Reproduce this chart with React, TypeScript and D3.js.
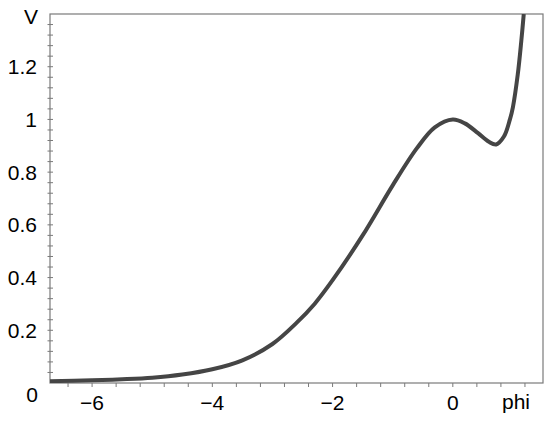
import React from "react";
import * as d3 from "d3";

const phi = [-6.7, -6.0, -5.5, -5.0, -4.5, -4.0, -3.5, -3.0, -2.6, -2.3, -2.0, -1.5, -1.0, -0.6, -0.3, 0, 0.2, 0.42, 0.6, 0.72, 0.85, 0.95, 1.0, 1.08, 1.14, 1.18];
const V = [0.007, 0.010, 0.014, 0.020, 0.032, 0.052, 0.086, 0.148, 0.228, 0.30, 0.39, 0.56, 0.75, 0.89, 0.97, 1.0, 0.985, 0.948, 0.915, 0.905, 0.935, 1.0, 1.047, 1.17, 1.30, 1.40];
const xTicks = [-6, -4, -2, 0];
const yTicks = [0.2, 0.4, 0.6, 0.8, 1, 1.2];

const W = 550, H = 421;
const L = 50, R = 543, T = 14, B = 383;

export default function App() {
  const x = d3.scaleLinear().domain([-6.7, 1.5]).range([L, R]);
  const y = d3.scaleLinear().domain([0, 1.4]).range([B, T]);
  const pts = phi.map((p, i) => [p, V[i]] as [number, number]);
  const line = d3.line<[number, number]>().x(d => x(d[0])).y(d => y(d[1])).curve(d3.curveCatmullRom.alpha(0.5));
  const xMinor = d3.range(-6.4, 1.5, 0.4).map(v => Math.round(v * 10) / 10);
  const yMinor = d3.range(0.04, 1.4, 0.04).map(v => Math.round(v * 100) / 100);
  const gray = "#7a7a7a";
  const font = "'Liberation Sans', Arial, sans-serif";
  return (
    <svg width={W} height={H} style={{ position: "absolute", left: 0, top: 0, background: "#fff" }}>
      <defs>
        <clipPath id="pc"><rect x={L} y={T} width={R - L} height={B - T} /></clipPath>
      </defs>
      <rect x={L} y={T} width={R - L} height={B - T} fill="none" stroke={gray} strokeWidth={1.2} />
      {xMinor.map((v, i) => (
        <line key={"xm" + i} x1={x(v)} x2={x(v)} y1={B} y2={B + 4} stroke={gray} strokeWidth={1} />
      ))}
      {yMinor.map((v, i) => (
        <line key={"ym" + i} x1={L - 2.5} x2={L + 3} y1={y(v)} y2={y(v)} stroke={gray} strokeWidth={1} />
      ))}
      <path d={line(pts) || ""} fill="none" stroke="#454545" strokeWidth={4} strokeLinejoin="round" clipPath="url(#pc)" />
      <g fontFamily={font} fontSize={21} fill="#000">
        {yTicks.map((v, i) => (
          <text key={"yl" + i} x={37} y={y(v)} dy="0.36em" textAnchor="end">{String(v)}</text>
        ))}
        <text x={38} y={394} dy="0.36em" textAnchor="end">0</text>
        <text x={31} y={16} dy="0.36em" textAnchor="middle">V</text>
        {xTicks.map((v, i) => (
          <text key={"xl" + i} x={x(v)} y={402} dy="0.36em" textAnchor="middle">{v < 0 ? "\u2212" + Math.abs(v) : String(v)}</text>
        ))}
        <text x={516} y={401} dy="0.36em" textAnchor="middle">phi</text>
      </g>
    </svg>
  );
}
